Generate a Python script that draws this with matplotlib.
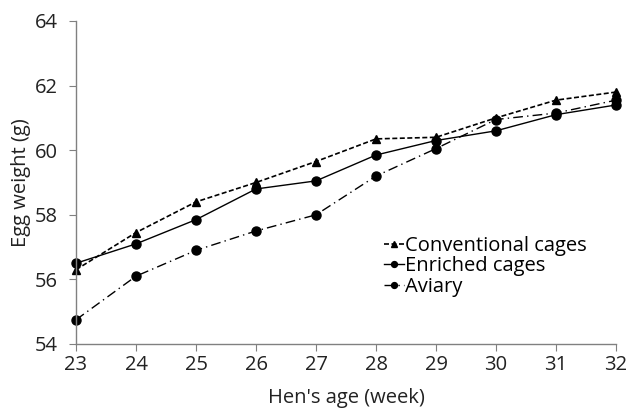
import numpy as np
import matplotlib
matplotlib.use("Agg")
import matplotlib.pyplot as plt

plt.rcParams['font.family'] = ['Open Sans', 'DejaVu Sans']

weeks = [23, 24, 25, 26, 27, 28, 29, 30, 31, 32]
conventional = [56.3, 57.45, 58.4, 59.0, 59.65, 60.35, 60.4, 61.0, 61.55, 61.8]
enriched = [56.5, 57.1, 57.85, 58.8, 59.05, 59.85, 60.3, 60.6, 61.1, 61.4]
aviary = [54.75, 56.1, 56.9, 57.5, 58.0, 59.2, 60.05, 60.95, 61.15, 61.55]

fig = plt.figure(figsize=(6.27, 4.09), dpi=100)
ax = fig.add_axes([76/627, 1-344/409, 540/627, 323/409])

ax.plot(weeks, conventional, color='black', lw=1.2, ls=(0, (3, 1.5)),
        marker='^', ms=6, label='Conventional cages')
ax.plot(weeks, enriched, color='black', lw=1.0, ls='-',
        marker='o', ms=6.5, label='Enriched cages')
ax.plot(weeks, aviary, color='black', lw=1.0, ls=(0, (7, 3, 1, 3)),
        marker='o', ms=6.5, label='Aviary')

ax.set_xlim(23, 32)
ax.set_ylim(54, 64)
ax.set_xticks(weeks)
ax.set_yticks([54, 56, 58, 60, 62, 64])
for s in ['top', 'right']:
    ax.spines[s].set_visible(False)
for s in ['left', 'bottom']:
    ax.spines[s].set_color('#808080')
    ax.spines[s].set_linewidth(1.0)
ax.tick_params(axis='both', colors='#808080', labelcolor='#222222',
               labelsize=14.5, length=5, direction='out')
ax.tick_params(axis='x', pad=3)
ax.tick_params(axis='y', pad=8)

ax.set_xlabel("Hen's age (week)", fontsize=14.5, color='#222222', labelpad=9)
ax.set_ylabel("Egg weight (g)", fontsize=14.5, color='#222222', labelpad=3)

for ln in ax.lines:
    ln.set_clip_on(False)

leg = ax.legend(loc='upper left', bbox_to_anchor=(0.555, 0.36), frameon=False,
                fontsize=14.5, handlelength=1.0, handletextpad=0.05,
                labelspacing=0.02, borderaxespad=0, markerscale=0.65)

fig.savefig('out.png', dpi=100)
